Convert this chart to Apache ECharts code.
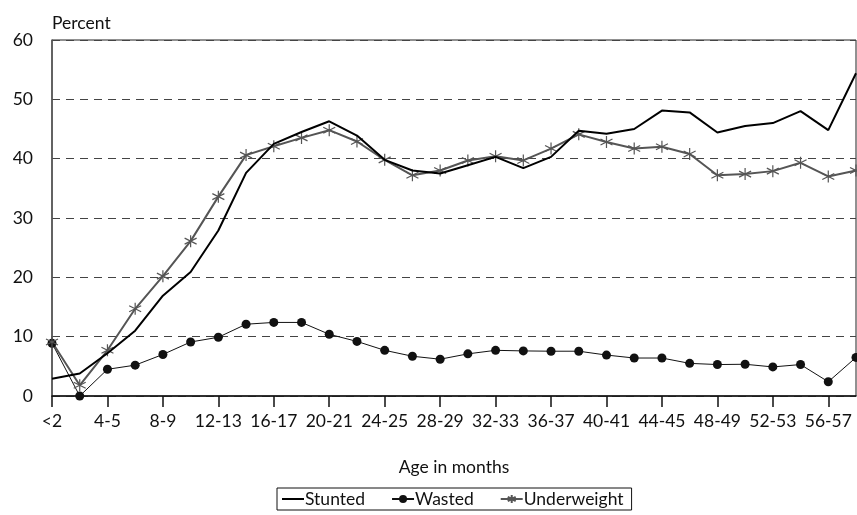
<!DOCTYPE html>
<html>
<head>
<meta charset="utf-8">
<script src="https://cdn.jsdelivr.net/npm/echarts@6/dist/echarts.min.js"></script>
<style>
  html, body { margin: 0; padding: 0; background: #fff; }
  #chart { width: 857px; height: 515px; }
</style>
</head>
<body>
<div id="chart"></div>
<script>
var ages = ['<2', '2-3', '4-5', '6-7', '8-9', '10-11', '12-13', '14-15', '16-17', '18-19',
  '20-21', '22-23', '24-25', '26-27', '28-29', '30-31', '32-33', '34-35', '36-37', '38-39',
  '40-41', '42-43', '44-45', '46-47', '48-49', '50-51', '52-53', '54-55', '56-57', '58-59'];

var stunted = [2.9, 3.8, 7.2, 11.0, 16.9, 20.9, 27.9, 37.6, 42.5, 44.5,
  46.3, 43.9, 39.8, 38.0, 37.5, 38.9, 40.3, 38.4, 40.3, 44.7,
  44.2, 45.0, 48.1, 47.8, 44.4, 45.5, 46.0, 48.0, 44.8, 54.4];

var wasted = [8.9, 0, 4.5, 5.2, 7.0, 9.1, 9.9, 12.1, 12.4, 12.4,
  10.4, 9.2, 7.7, 6.7, 6.2, 7.1, 7.7, 7.6, 7.55, 7.55,
  6.9, 6.4, 6.4, 5.5, 5.3, 5.35, 4.9, 5.3, 2.4, 6.5];

var underweight = [9.1, 1.8, 7.7, 14.7, 20.2, 26.1, 33.6, 40.6, 42.1, 43.5,
  44.8, 42.9, 39.8, 37.2, 38.0, 39.7, 40.4, 39.7, 41.7, 44.1,
  42.8, 41.7, 42.0, 40.8, 37.2, 37.4, 37.9, 39.3, 37.0, 38.0];

var font = 'Lato';
var fs = 17.5;
var star = 'path://M0,-6L0,6M-5.2,-3L5.2,3M-5.2,3L5.2,-3';

var chart = echarts.init(document.getElementById('chart'));

var option = {
  animation: false,
  textStyle: { fontFamily: font, color: '#111' },
  grid: {
    left: 52,
    right: 1,
    top: 40,
    bottom: 119,
    show: true,
    borderColor: '#222',
    borderWidth: 1
  },
  legend: {
    left: 277,
    top: 488,
    data: ['Stunted', 'Wasted', 'Underweight'],
    borderColor: '#111',
    borderWidth: 1,
    padding: [2, 8, 2, 4],
    itemGap: 26,
    itemWidth: 22,
    itemHeight: 10,
    textStyle: { fontFamily: font, fontSize: fs, color: '#111', padding: [0, 0, 0, -4] }
  },
  xAxis: {
    type: 'category',
    data: ages,
    boundaryGap: false,
    name: 'Age in months',
    nameLocation: 'middle',
    nameGap: 62,
    nameTextStyle: { fontFamily: font, fontSize: fs, color: '#111' },
    axisLine: { lineStyle: { color: '#111', width: 1.5 } },
    axisTick: { show: true, interval: 1, length: 11, lineStyle: { color: '#111', width: 1.5 } },
    axisLabel: { interval: 1, fontFamily: font, fontSize: fs, color: '#111', margin: 16 },
    splitLine: { show: false }
  },
  yAxis: {
    type: 'value',
    min: 0,
    max: 60,
    interval: 10,
    name: 'Percent',
    nameLocation: 'end',
    nameGap: 8,
    nameTextStyle: { fontFamily: font, fontSize: fs, color: '#111', align: 'left' },
    axisLine: { show: true, lineStyle: { color: '#555', width: 1.5 } },
    axisTick: { show: false },
    axisLabel: { fontFamily: font, fontSize: fs, color: '#111', margin: 19 },
    splitLine: { show: true, lineStyle: { color: '#444', type: [8, 6], width: 1 } }
  },
  series: [
    {
      name: 'Stunted',
      type: 'line',
      data: stunted,
      showSymbol: false,
      symbol: 'none',
      lineStyle: { color: '#000', width: 2 },
      itemStyle: { color: 'rgba(0,0,0,0)', borderWidth: 0 },
      z: 3
    },
    {
      name: 'Wasted',
      type: 'line',
      data: wasted,
      symbol: 'circle',
      symbolSize: 9,
      lineStyle: { color: '#111', width: 1 },
      itemStyle: { color: '#111' },
      z: 2
    },
    {
      name: 'Underweight',
      type: 'line',
      data: underweight,
      symbol: star,
      symbolSize: 12,
      lineStyle: { color: '#555', width: 2 },
      itemStyle: { color: '#555', borderColor: '#555', borderWidth: 1.2 },
      z: 2
    }
  ]
};

chart.setOption(option);
</script>
</body>
</html>
